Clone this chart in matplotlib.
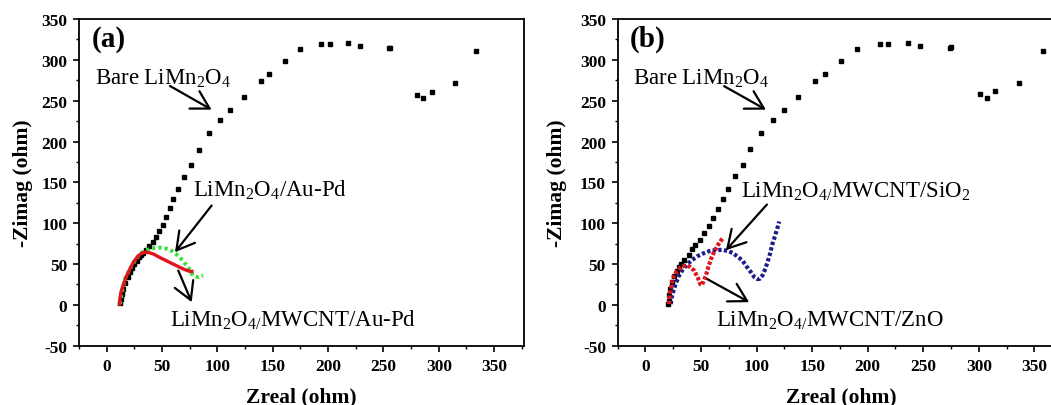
import matplotlib
matplotlib.use("Agg")
import matplotlib.pyplot as plt
from matplotlib.ticker import MultipleLocator

plt.rcParams['font.family'] = ['Liberation Serif', 'DejaVu Serif']
plt.rcParams['mathtext.fontset'] = 'custom'
plt.rcParams['mathtext.rm'] = 'Liberation Serif'
plt.rcParams['mathtext.it'] = 'Liberation Serif:italic'
plt.rcParams['mathtext.bf'] = 'Liberation Serif:bold'
plt.rcParams['axes.unicode_minus'] = False

# ---------------- data: panel (a) ----------------
bare_a_x = [334, 314.5, 294, 286, 280, 256, 255, 229, 218, 202, 194, 175, 161, 147, 139,
            124, 111, 102, 92, 83, 76, 70, 64, 60, 57, 54, 51, 47.5, 44.5, 41.5, 38.5,
            35.5, 33, 31, 29, 27, 25, 23, 21, 19, 17, 15, 13.5, 12.5, 12]
bare_a_y = [311, 272, 261, 253, 257, 315, 314, 317, 321, 319, 320, 313, 299, 283, 274,
            255, 238, 226, 210, 190, 171, 157, 142, 130, 118, 107, 98, 90, 83, 77, 72,
            67, 64, 61, 58, 54, 50, 45, 40, 34, 27, 20, 13, 7, 2]

aupd_x = [12, 13, 14.5, 16.5, 19.5, 22.6, 26, 30, 34, 39, 44, 48, 52, 57, 62, 66, 70,
          73.7, 76, 78, 80.5, 82.7, 85, 87]
aupd_y = [1, 10, 20, 32, 40, 48, 55, 62, 66, 68.6, 69.8, 70, 69.5, 67.7, 63, 58.4, 52,
          46, 40, 36, 34.5, 34, 35, 36]

mw_aupd_x = [11.5, 12, 13, 15, 17.5, 21, 24.5, 28.5, 31.5, 34.6, 38, 42, 48, 54, 60, 66,
             70, 75, 77]
mw_aupd_y = [1, 8, 16, 24, 34, 44, 53, 60, 63, 64.5, 64, 62.4, 58, 54, 50, 46, 43.5, 41, 41]

# ---------------- data: panel (b) ----------------
bare_b_x = [357.5, 336.5, 315, 307, 301, 275, 274, 247, 236.5, 218.5, 211, 190, 176,
            161.5, 153, 137, 124.5, 114.7, 104, 94, 87.7, 80.5, 74, 70, 65.4, 61, 57, 53,
            49, 45, 42, 39, 35, 32, 30, 28, 26, 24, 22.5, 21.5, 21, 20.5]
bare_b_y = [311, 272, 261.5, 253, 258, 316, 314, 317, 321, 319, 320, 313, 299, 283, 274,
            255, 238, 226, 210, 190.5, 171, 157.5, 142, 130, 117.5, 106, 97, 88, 80, 73,
            68, 61, 55.5, 50, 46, 41, 35, 28, 20, 12, 5, 1]

zno_x = [21, 21.5, 22.8, 24, 25.8, 28, 30, 32, 34.5, 37.8, 40.5, 43.8, 46, 48.3, 49.5,
         50.7, 52, 54.4, 56.5, 58.9, 61.5, 64.9, 67.5, 69.3]
zno_y = [1, 10, 19.6, 28, 36, 41, 44, 46, 47.5, 48, 46, 42, 36, 29.8, 25, 24, 28, 36, 46,
         56, 64, 72.6, 78, 81]

sio2_x = [22.8, 23.5, 24.5, 25.8, 27.5, 30.3, 33.5, 37.8, 42, 46.8, 52, 57.3, 63, 69.3,
          74, 78.3, 83, 87.3, 91, 94.9, 98, 100.9, 103, 105.3, 107.5, 109.8, 112, 114.3,
          116.5, 118.5, 120.4]
sio2_y = [1, 8, 14, 20, 27, 36, 43, 50, 55, 59.6, 63, 65.7, 67, 67.3, 66, 63.7, 59, 54.3,
          47, 40, 34, 31.5, 32, 36, 43, 52, 62, 74.7, 84, 93, 102]

x_ticks = [0, 50, 100, 150, 200, 250, 300, 350]
y_ticks = [-50, 0, 50, 100, 150, 200, 250, 300, 350]

GREEN = '#33e333'
RED = '#e0141a'
BLUE = '#1c1c8a'

W, H = 1051, 406
fig = plt.figure(figsize=(W / 100, H / 100), dpi=100)
fig.patch.set_facecolor('white')

ax_bottom = (H - 346.7) / H
ax_height = (346.7 - 20) / H
ax_a = fig.add_axes([79 / W, ax_bottom, (524 - 79) / W, ax_height])
ax_b = fig.add_axes([617.7 / W, ax_bottom, 446.6 / W, ax_height])

ANN_FS = 16.5


def style_axes(ax, ylab_x):
    ax.set_xlim(-25, 377)
    ax.set_ylim(-50, 350)
    ax.set_xticks(x_ticks)
    ax.set_yticks(y_ticks)
    ax.xaxis.set_minor_locator(MultipleLocator(25))
    ax.yaxis.set_minor_locator(MultipleLocator(25))
    ax.tick_params(which='major', direction='out', length=4.5, width=1.2,
                   labelsize=12.5, pad=4)
    ax.tick_params(which='minor', direction='out', length=2.2, width=1.0)
    for lab in ax.get_xticklabels() + ax.get_yticklabels():
        lab.set_fontweight('bold')
    for sp in ax.spines.values():
        sp.set_linewidth(1.3)
    ax.set_xlabel('Zreal (ohm)', fontsize=15.5, fontweight='bold')
    ax.set_ylabel('-Zimag (ohm)', fontsize=15.5, fontweight='bold')
    ax.xaxis.set_label_coords(0.5, -0.125)
    ax.yaxis.set_label_coords(ylab_x, 0.5)


def arrow(ax, start, end):
    ax.annotate('', xy=end, xytext=start,
                arrowprops=dict(arrowstyle='->,head_length=0.7,head_width=0.4',
                                lw=1.6, color='black', mutation_scale=18,
                                shrinkA=0, shrinkB=0))


# ---- panel (a)
style_axes(ax_a, -0.103)
ax_a.plot(bare_a_x, bare_a_y, linestyle='none', marker='s', markersize=3.2,
          color='black', zorder=2)
ax_a.plot(aupd_x, aupd_y, linestyle=(0, (0.8, 0.8)), lw=2.8, color=GREEN, zorder=3)
ax_a.plot(mw_aupd_x, mw_aupd_y, linestyle='-', lw=2.4, color=RED, zorder=4)

ax_a.text(-13.3, 317.5, '(a)', fontsize=21, fontweight='bold', va='baseline')
ax_a.text(-10.5, 270.6, r'Bare LiMn$_2$O$_4$', fontsize=ANN_FS, va='baseline')
ax_a.text(78, 133.8, r'LiMn$_2$O$_4$/Au-Pd', fontsize=ANN_FS, va='baseline')
ax_a.text(57, -25.3, r'LiMn$_2$O$_{4/}$MWCNT/Au-Pd', fontsize=ANN_FS, va='baseline')
arrow(ax_a, (57.2, 268), (94.8, 239))
arrow(ax_a, (94.8, 121.6), (61.7, 64.5))
arrow(ax_a, (64.7, 42), (76.8, 3.3))

# ---- panel (b)
style_axes(ax_b, -0.114)
ax_b.plot(bare_b_x, bare_b_y, linestyle='none', marker='s', markersize=3.2,
          color='black', zorder=2)
ax_b.plot(sio2_x, sio2_y, linestyle=(0, (0.8, 0.55)), lw=3.0, color=BLUE, zorder=3)
ax_b.plot(zno_x, zno_y, linestyle=(0, (0.8, 0.45)), lw=3.0, color=RED, zorder=4)

ax_b.text(-13.8, 317.5, '(b)', fontsize=21, fontweight='bold', va='baseline')
ax_b.text(-11, 270.6, r'Bare LiMn$_2$O$_4$', fontsize=ANN_FS, va='baseline')
ax_b.text(86, 133, r'LiMn$_2$O$_{4/}$MWCNT/SiO$_2$', fontsize=ANN_FS, va='baseline')
ax_b.text(63.4, -25.3, r'LiMn$_2$O$_{4/}$MWCNT/ZnO', fontsize=ANN_FS, va='baseline')
arrow(ax_b, (70.8, 267.8), (108.4, 239))
arrow(ax_b, (109.3, 122.8), (72.4, 66.9))
arrow(ax_b, (55.3, 31.8), (93.3, 3.3))

fig.savefig('out.png', dpi=100, facecolor='white')
